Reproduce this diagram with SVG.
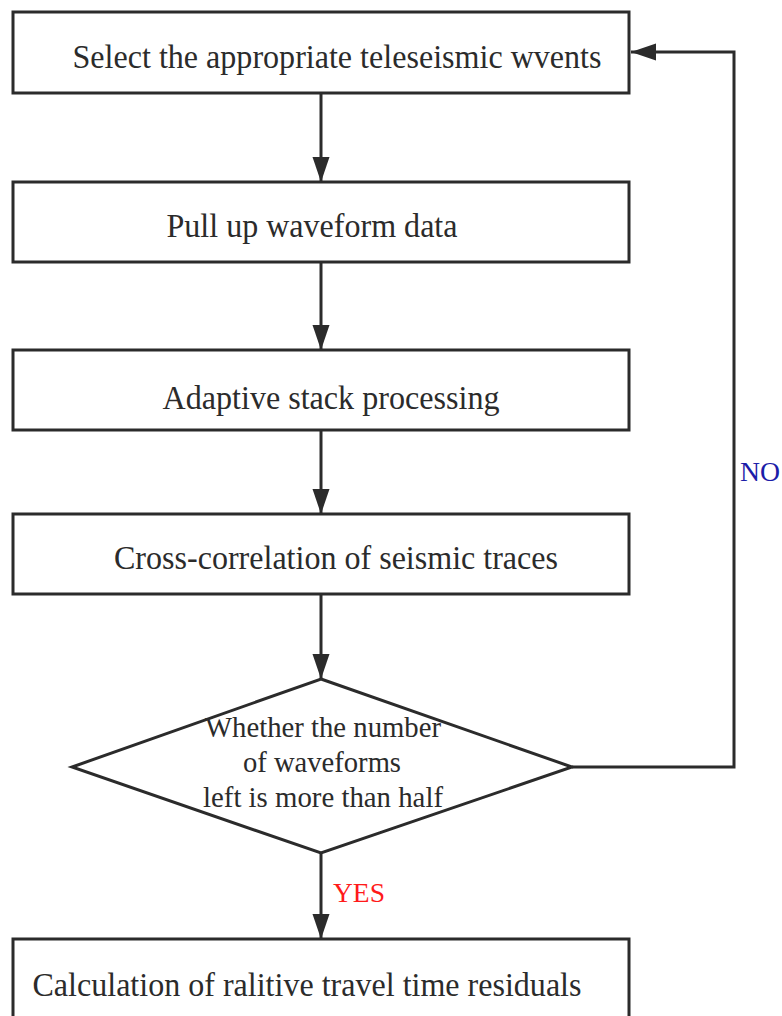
<svg xmlns="http://www.w3.org/2000/svg" width="782" height="1016" viewBox="0 0 782 1016">
<style>
.box{fill:#fff;stroke:#2b2b2b;stroke-width:3}
.t{font-family:"Liberation Serif","Times New Roman",serif;fill:#2b2b2b;text-anchor:middle}
.big{font-size:34px}
.mid{font-size:30px}
.c{fill:none;stroke:#2b2b2b;stroke-width:3}
.lbl{font-family:"Liberation Serif","Times New Roman",serif;font-size:28px}
</style>
<defs>
<marker id="ah" markerUnits="userSpaceOnUse" markerWidth="26" markerHeight="18" refX="25" refY="8.5" orient="auto">
<path d="M0,0 L25,8.5 L0,17 Z" fill="#2b2b2b"/>
</marker>
</defs>
<g id="connectors">
<line class="c" x1="321" y1="93" x2="321" y2="182" marker-end="url(#ah)"/>
<line class="c" x1="321" y1="262" x2="321" y2="350" marker-end="url(#ah)"/>
<line class="c" x1="321" y1="430" x2="321" y2="514" marker-end="url(#ah)"/>
<line class="c" x1="321" y1="594" x2="321" y2="679" marker-end="url(#ah)"/>
<line class="c" x1="321" y1="853" x2="321" y2="939" marker-end="url(#ah)"/>
<polyline class="c" points="572,767 734,767 734,52 631,52" marker-end="url(#ah)"/>
<text class="lbl" x="333" y="902" fill="#ff1a1a" textLength="52" lengthAdjust="spacingAndGlyphs">YES</text>
<text class="lbl" x="740" y="481" fill="#1c1ca8" textLength="40" lengthAdjust="spacingAndGlyphs">NO</text>
</g>
<g id="n1">
<rect class="box" x="13" y="12" width="616" height="81"/>
<text class="t big" x="337" y="68" textLength="529" lengthAdjust="spacingAndGlyphs">Select the appropriate teleseismic wvents</text>
</g>
<g id="n2">
<rect class="box" x="13" y="182" width="616" height="80"/>
<text class="t big" x="312" y="237" textLength="291" lengthAdjust="spacingAndGlyphs">Pull up waveform data</text>
</g>
<g id="n3">
<rect class="box" x="13" y="350" width="616" height="80"/>
<text class="t big" x="331" y="409" textLength="337" lengthAdjust="spacingAndGlyphs">Adaptive stack processing</text>
</g>
<g id="n4">
<rect class="box" x="13" y="514" width="616" height="80"/>
<text class="t big" x="336" y="569" textLength="444" lengthAdjust="spacingAndGlyphs">Cross-correlation of seismic traces</text>
</g>
<g id="n5">
<polygon class="box" points="321,679 572,767 321,853 72,767"/>
<text class="t mid" x="323" y="737" textLength="236" lengthAdjust="spacingAndGlyphs">Whether the number</text>
<text class="t mid" x="322" y="772" textLength="158" lengthAdjust="spacingAndGlyphs">of waveforms</text>
<text class="t mid" x="323" y="807" textLength="240" lengthAdjust="spacingAndGlyphs">left is more than half</text>
</g>
<g id="n6">
<rect class="box" x="13" y="939" width="616" height="90"/>
<text class="t big" x="307" y="996" textLength="549" lengthAdjust="spacingAndGlyphs">Calculation of ralitive travel time residuals</text>
</g>
</svg>
